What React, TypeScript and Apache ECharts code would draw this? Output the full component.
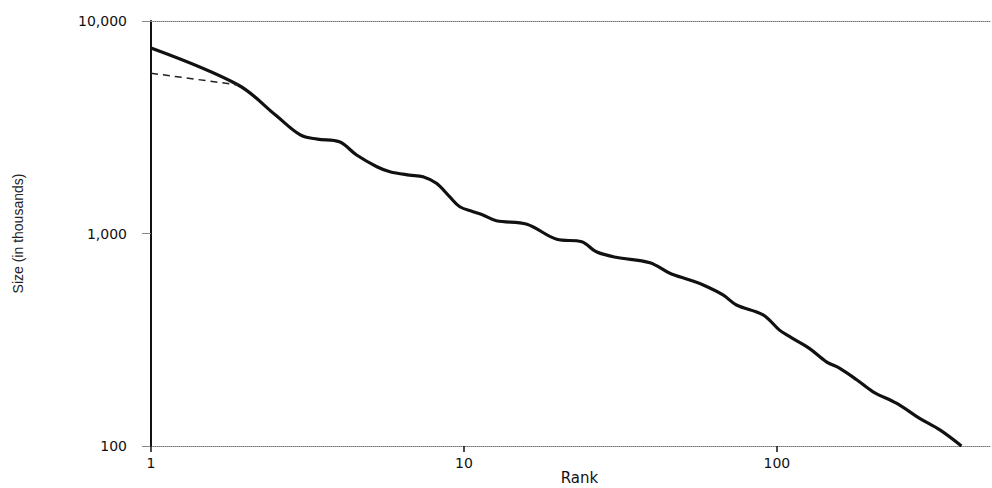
import React, { useEffect, useRef } from "react";
import * as echarts from "echarts";

// Rank-size curve: [rank, size in thousands]
const rankSizeData: [number, number][] = [
  [1, 7460], [1.9, 5000], [2.5, 3610], [3, 2910], [3.4, 2780], [4, 2700],
  [4.54, 2340], [5.27, 2062], [5.8, 1954], [6.7, 1884], [7.4, 1850],
  [8.17, 1722], [9.0, 1490], [9.7, 1336], [10.7, 1267], [11.5, 1222],
  [12.7, 1148], [15.9, 1105], [19.8, 939], [23.8, 915], [26.5, 820],
  [30.6, 773], [39.3, 729], [45.5, 650], [52.7, 604], [58.2, 572],
  [67.3, 514], [74.3, 461], [90.4, 414], [102, 351], [110, 327],
  [127, 288], [144, 249], [159, 232], [180, 205], [203, 180],
  [241, 159], [286, 135], [332, 119], [389, 100],
];

// Dashed reference segment at the top ranks
const dashedData: [number, number][] = [
  [1, 5680], [1.9, 5000],
];

const xTicks = [1, 10, 100];
const yTicks = [100, 1000, 10000];
const xMax = 480;

export default function App() {
  const ref = useRef<HTMLDivElement>(null);
  useEffect(() => {
    if (!ref.current) return;
    const chart = echarts.init(ref.current, null, { renderer: "svg" });
    const labelFont = { fontFamily: "DejaVu Sans", fontSize: 14, color: "#111" };
    chart.setOption({
      animation: false,
      backgroundColor: "#fff",
      grid: { left: 151, right: 2, top: 21, bottom: 42, containLabel: false, outerBoundsMode: "none" },
      xAxis: [
        {
          type: "log",
          logBase: 10,
          min: 1,
          max: xMax,
          name: "Rank",
          nameLocation: "middle",
          nameGap: 24,
          nameMoveOverlap: false,
          nameTextStyle: { fontFamily: "DejaVu Sans", fontSize: 15, color: "#111", padding: [0, 0, 0, 18] },
          axisLine: { show: true, onZero: false, lineStyle: { color: "#777", width: 1, type: "dotted" } },
          axisTick: { show: true, inside: false, length: 6, customValues: xTicks, lineStyle: { color: "#111", width: 1.5 } },
          axisLabel: { show: true, margin: 10, customValues: xTicks, ...labelFont },
          splitLine: { show: false },
          minorTick: { show: false },
        },
        {
          type: "log",
          logBase: 10,
          min: 1,
          max: xMax,
          position: "top",
          axisLine: { show: true, onZero: false, lineStyle: { color: "#777", width: 1, type: "dotted" } },
          axisTick: { show: false },
          axisLabel: { show: false },
          splitLine: { show: false },
        },
      ],
      yAxis: {
        type: "log",
        logBase: 10,
        min: 100,
        max: 10000,
        name: "Size (in thousands)",
        nameLocation: "middle",
        nameRotate: 90,
        nameGap: 126,
        nameMoveOverlap: false,
        nameTextStyle: { fontFamily: "'Liberation Sans Narrow', 'Liberation Sans', sans-serif", fontSize: 14, color: "#222" },
        axisLine: { show: true, lineStyle: { color: "#111", width: 2 } },
        axisTick: { show: true, inside: false, length: 9, customValues: yTicks, lineStyle: { color: "#888", width: 1 } },
        axisLabel: {
          show: true,
          margin: 24,
          customValues: yTicks,
          formatter: (v: number) => Math.round(v).toLocaleString("en-US"),
          ...labelFont,
        },
        splitLine: { show: false },
      },
      series: [
        {
          type: "line",
          data: rankSizeData,
          xAxisIndex: 0,
          smooth: 0.35,
          showSymbol: false,
          symbol: "none",
          clip: true,
          lineStyle: { color: "#111", width: 3.2 },
        },
        {
          type: "line",
          data: dashedData,
          xAxisIndex: 0,
          showSymbol: false,
          symbol: "none",
          lineStyle: { color: "#222", width: 1.5, type: [7, 5] },
        },
      ],
    });
    return () => chart.dispose();
  }, []);
  return <div ref={ref} style={{ width: 992, height: 488, position: "absolute", left: 0, top: 0 }} />;
}
